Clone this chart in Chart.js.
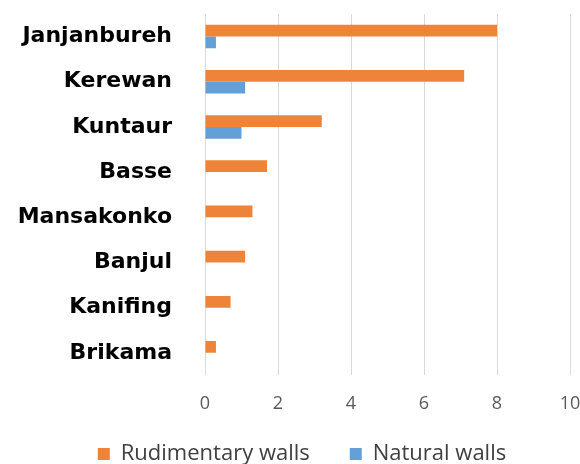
<!DOCTYPE html>
<html>
<head>
<meta charset="utf-8">
<script src="https://cdn.jsdelivr.net/npm/chart.js@4"></script>
<style>
  html, body { margin: 0; padding: 0; background: #ffffff; }
  #wrap { width: 580px; height: 464px; }
</style>
</head>
<body>
<div id="wrap"><canvas id="c" width="580" height="464"></canvas></div>
<script>
const categories = ["Janjanbureh", "Kerewan", "Kuntaur", "Basse", "Mansakonko", "Banjul", "Kanifing", "Brikama"];
const rudimentaryWalls = [8.0, 7.1, 3.2, 1.7, 1.3, 1.1, 0.7, 0.3];
const naturalWalls = [0.3, 1.1, 1.0, 0, 0, 0, 0, 0];
const seriesNames = ["Rudimentary walls", "Natural walls"];
const xTickStep = 2;
const xMin = 0, xMax = 10;

const legendShift = {
  id: 'legendShift',
  afterLayout(chart) {
    const lg = chart.legend;
    if (lg) { lg.top -= 30; lg.bottom -= 30; lg.left += 12; lg.right += 12; }
  }
};

new Chart(document.getElementById('c'), {
  type: 'bar',
  data: {
    labels: categories,
    datasets: [
      { label: seriesNames[0], data: rudimentaryWalls, backgroundColor: '#EE843A', borderWidth: 0,
        categoryPercentage: 0.52, barPercentage: 1.0 },
      { label: seriesNames[1], data: naturalWalls, backgroundColor: '#63A0D8', borderWidth: 0,
        categoryPercentage: 0.52, barPercentage: 1.0 }
    ]
  },
  plugins: [legendShift],
  options: {
    indexAxis: 'y',
    responsive: false,
    animation: false,
    layout: { padding: { top: 14, left: 0, right: 0, bottom: -41 } },
    plugins: {
      legend: {
        position: 'bottom',
        labels: {
          boxWidth: 12, boxHeight: 12, padding: 40,
          color: '#404040',
          font: { family: 'Open Sans', size: 22 }
        }
      },
      tooltip: { enabled: false }
    },
    scales: {
      x: {
        min: xMin, max: xMax,
        afterFit: (s) => { s.paddingLeft = 0; s.paddingRight = 10; },
        grid: { color: '#D9D9D9', lineWidth: 1, drawTicks: false },
        border: { display: false },
        ticks: { stepSize: xTickStep, color: '#595959', padding: 18, font: { family: 'Open Sans', size: 18 } }
      },
      y: {
        afterFit: (s) => { s.width = 205; s.paddingTop = 0; s.paddingBottom = 0; },
        grid: { display: false, drawTicks: false },
        border: { display: false },
        ticks: { color: '#000000', padding: 33, font: { family: 'DejaVu Sans', size: 22, weight: 'bold' } }
      }
    }
  }
});
</script>
</body>
</html>
